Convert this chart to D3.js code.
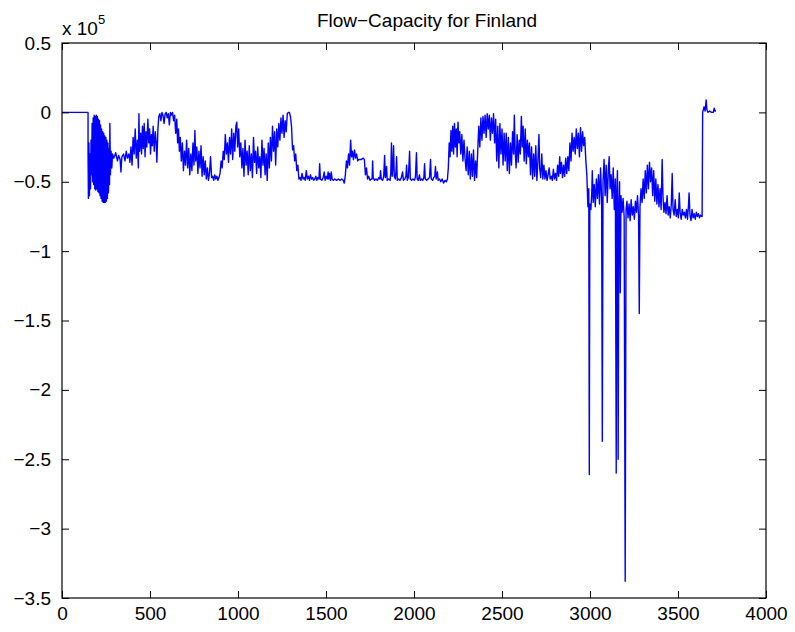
<!DOCTYPE html>
<html>
<head>
<meta charset="utf-8">
<script src="https://cdn.jsdelivr.net/npm/d3@7"></script>
<style>
  body { margin: 0; background: #fff; }
  text { font-family: "Liberation Sans", Arial, sans-serif; fill: #000; }
</style>
</head>
<body>
<svg id="chart"></svg>
<script>
const width = 795;
const height = 632;
const margin = {top: 43, right: 29, bottom: 34, left: 62};

// flow - capacity, pairs of [hour index, value in thousands]
const flatStart = [[0,0],[148,0]];
const earlyWild = [[148,-30],[150,-62],[153,-22],[156,-60],[159,-30],[162,-55],[165,-20],[168,-45],[171,-8],[174,-50],[177,-4],[180,-52],[183,-2],[186,-55],[189,-3],[192,-56],[195,-2],[198,-55],[201,-3],[204,-57],[207,-5],[210,-58],[213,-6],[216,-60],[219,-9],[222,-62],[225,-12],[228,-64],[231,-14],[234,-65],[237,-15],[240,-65],[243,-17],[246,-65],[249,-18],[252,-64],[255,-20],[258,-62],[261,-22],[264,-58],[267,-26],[270,-52],[272,-8],[275,-45],[279,-28],[283,-40],[287,-30]];
const firstPlateau = [[295,-33],[305,-29],[315,-35],[322,-31],[330,-34],[335,-43],[340,-32],[350,-30],[358,-35],[365,-28],[372,-33],[380,-30],[386,-36],[392,-25],[398,-38],[404,-18],[410,-30],[416,-12],[422,-33],[428,-20],[434,-40],[437,-1],[441,-28],[447,-15],[452,-30],[457,-10],[462,-26],[467,-8],[472,-32],[477,-14],[482,-25],[488,-5],[493,-22],[498,-12],[503,-30],[508,-16],[513,-24],[518,-10],[524,-28],[530,-14],[535,-22],[539,-36],[545,-12],[550,-3],[556,-1],[562,-6],[568,0],[574,-2],[580,-8],[586,-1],[592,0],[598,-4],[604,-1],[610,-9],[616,0],[622,-2],[628,0],[634,-6],[640,-2],[646,-15],[652,-5],[657,-22],[662,-12],[667,-28],[672,-18],[678,-35],[684,-22],[690,-42],[696,-28],[702,-38],[708,-20],[714,-40],[720,-26],[726,-45]];
const secondHump = [[732,-30],[738,-42],[744,-22],[750,-38],[755,-13],[760,-35],[766,-25],[772,-44],[778,-28],[784,-40],[790,-24],[796,-46],[802,-32],[808,-45],[814,-35],[820,-48],[826,-40],[832,-49],[838,-44],[844,-32],[850,-47],[856,-46],[862,-49],[868,-45],[874,-48],[880,-46],[886,-49],[892,-47],[898,-44],[904,-35],[910,-40],[916,-28],[922,-34],[928,-16],[934,-30],[940,-22],[946,-36],[952,-18],[958,-30],[964,-12],[970,-34],[976,-15],[982,-28],[988,-10],[993,-7],[998,-25],[1004,-12],[1010,-32],[1016,-22],[1022,-40],[1028,-26],[1034,-46],[1040,-20],[1046,-38],[1052,-28],[1058,-45],[1064,-24],[1070,-42],[1076,-30],[1082,-47],[1088,-18],[1094,-36],[1100,-28],[1106,-44],[1112,-25],[1118,-40],[1124,-32],[1130,-47],[1136,-20],[1142,-38],[1148,-26],[1154,-45],[1160,-30],[1166,-49],[1172,-22],[1178,-40],[1184,-18],[1190,-35],[1196,-10],[1202,-28],[1208,-14],[1214,-38],[1220,-12],[1226,-25],[1232,-8],[1238,-20],[1244,-4],[1250,-15],[1256,-2],[1262,-18],[1268,-6],[1274,-14],[1280,-1],[1286,0],[1292,0],[1298,-3],[1304,-10],[1310,-27],[1316,-24],[1322,-35],[1328,-30],[1334,-42],[1340,-38],[1346,-48]];
const lowStretch = [[1352,-47],[1358,-49],[1364,-44],[1370,-48],[1376,-47],[1382,-49],[1388,-42],[1394,-48],[1400,-46],[1406,-49],[1412,-45],[1418,-48],[1424,-47],[1430,-49],[1436,-48],[1442,-46],[1448,-49],[1454,-47],[1460,-48],[1464,-37],[1468,-48],[1476,-49],[1484,-47],[1490,-43],[1495,-49],[1502,-46],[1508,-48],[1512,-43],[1516,-48],[1520,-44],[1526,-49],[1530,-43],[1535,-48],[1542,-49],[1550,-48],[1560,-49],[1570,-48],[1580,-49],[1590,-48],[1598,-49],[1604,-51],[1610,-45],[1616,-35],[1622,-40],[1628,-30],[1634,-38],[1640,-20],[1645,-32],[1650,-28],[1656,-34],[1662,-27],[1668,-33],[1674,-30],[1680,-35],[1686,-34],[1700,-34],[1712,-33],[1718,-34],[1724,-45],[1730,-40],[1736,-48],[1742,-46],[1750,-49],[1758,-48],[1762,-48],[1765,-35],[1768,-47],[1776,-49],[1784,-48],[1792,-49],[1800,-47],[1806,-48],[1810,-42],[1814,-48],[1822,-49],[1828,-46],[1833,-31],[1837,-47],[1840,-45],[1844,-39],[1848,-49],[1856,-48],[1864,-49],[1868,-44],[1872,-22],[1876,-46],[1880,-40],[1884,-24],[1888,-46],[1894,-48],[1898,-42],[1901,-32],[1905,-49],[1912,-48],[1920,-49],[1928,-47],[1935,-43],[1940,-49],[1948,-48],[1954,-46],[1958,-38],[1962,-49],[1968,-47],[1975,-28],[1979,-48],[1986,-49],[1994,-48],[2002,-49],[2008,-47],[2014,-29],[2018,-48],[2024,-49],[2031,-45],[2036,-49],[2044,-48],[2050,-49],[2056,-47],[2060,-37],[2064,-48],[2072,-49],[2080,-48],[2088,-47],[2094,-34],[2098,-48],[2106,-49],[2112,-47],[2118,-46],[2122,-39],[2126,-48],[2133,-43],[2137,-49],[2145,-48],[2152,-50],[2160,-48],[2168,-51],[2176,-49],[2184,-50],[2190,-48]];
const thirdHump = [[2195,-40],[2200,-22],[2205,-32],[2210,-13],[2215,-28],[2220,-10],[2225,-30],[2230,-8],[2235,-25],[2240,-12],[2245,-32],[2250,-7],[2255,-22],[2260,-14],[2266,-30],[2272,-16],[2278,-35],[2284,-20],[2290,-33],[2296,-42],[2302,-25],[2308,-45],[2314,-28],[2320,-48],[2326,-30],[2332,-46],[2338,-27],[2344,-49],[2350,-35],[2356,-47],[2362,-28],[2368,-10],[2374,-25],[2380,-4],[2386,-20],[2392,-3],[2398,-15],[2404,-2],[2410,-18],[2416,-1],[2422,-12],[2428,-2],[2434,-20],[2440,-4],[2446,-15],[2452,-1],[2458,-22],[2464,-5],[2470,-35],[2476,-10],[2482,-40],[2488,-8],[2494,-30],[2500,-12],[2506,-38],[2512,-15],[2518,-35],[2524,-15],[2530,-42],[2536,-18],[2542,-44],[2548,-22],[2554,-38],[2560,-14],[2566,-30],[2570,-2],[2575,-28],[2580,-40],[2586,-16],[2592,-36],[2598,-20],[2604,-30],[2610,-3],[2615,-25],[2620,-10],[2626,-35],[2632,-12],[2638,-37],[2644,-20],[2650,-32],[2656,-22],[2662,-45],[2668,-25],[2674,-48],[2680,-30],[2686,-46],[2692,-24],[2698,-49],[2704,-35],[2710,-16],[2714,-40],[2720,-47],[2726,-30],[2732,-48],[2738,-38],[2744,-48],[2750,-42],[2756,-49],[2762,-45],[2768,-40],[2774,-48],[2780,-46],[2786,-49],[2792,-41],[2798,-48],[2804,-44],[2810,-49],[2816,-38],[2822,-46],[2828,-32],[2832,-44],[2838,-36],[2844,-47],[2850,-38],[2856,-46],[2862,-33],[2868,-44],[2874,-32],[2880,-42],[2886,-22],[2892,-35],[2898,-15],[2904,-28],[2910,-18],[2916,-30],[2922,-12],[2928,-26],[2934,-15],[2940,-32],[2946,-11],[2952,-28],[2958,-14],[2964,-24],[2970,-18],[2976,-34],[2982,-45],[2988,-68],[2993,-55]];
const spikyEnd = [[2996,-261],[2999,-66],[3005,-70],[3010,-58],[3013,-42],[3018,-65],[3024,-52],[3030,-68],[3036,-48],[3042,-62],[3048,-45],[3054,-66],[3060,-40],[3066,-62],[3070,-237],[3074,-50],[3080,-34],[3086,-60],[3092,-38],[3098,-65],[3104,-42],[3109,-32],[3114,-55],[3120,-45],[3126,-62],[3132,-40],[3138,-70],[3144,-48],[3149,-260],[3152,-58],[3156,-42],[3160,-250],[3164,-66],[3168,-50],[3172,-130],[3176,-60],[3182,-72],[3188,-62],[3194,-75],[3200,-338],[3205,-70],[3210,-64],[3216,-76],[3222,-66],[3228,-78],[3234,-63],[3240,-74],[3246,-68],[3252,-77],[3258,-64],[3264,-72],[3270,-60],[3276,-75],[3280,-145],[3284,-68],[3290,-55],[3296,-65],[3302,-48],[3308,-62],[3314,-42],[3320,-58],[3326,-38],[3332,-55],[3338,-36],[3344,-50],[3350,-40],[3356,-60],[3362,-42],[3368,-64],[3374,-48],[3380,-66],[3386,-52],[3392,-68],[3398,-55],[3404,-70],[3410,-34],[3415,-62],[3420,-72],[3426,-65],[3432,-73],[3438,-60],[3444,-74],[3450,-68],[3456,-76],[3462,-66],[3467,-44],[3472,-70],[3478,-74],[3484,-63],[3490,-75],[3496,-70],[3502,-76],[3507,-58],[3512,-72],[3518,-77],[3524,-70],[3530,-74],[3536,-72],[3542,-76],[3548,-70],[3554,-77],[3560,-66],[3563,-58],[3568,-74],[3574,-78],[3580,-70],[3586,-76],[3592,-73],[3598,-77],[3604,-72],[3610,-75],[3616,-73],[3622,-76],[3628,-74],[3634,-75],[3637,-75]];
const recovery = [[3640,0],[3648,4],[3654,1],[3660,9],[3664,2],[3670,0],[3680,1],[3690,0],[3700,0],[3706,3],[3710,1],[3716,1]];

const xTicks = [0, 500, 1000, 1500, 2000, 2500, 3000, 3500, 4000];
const yTicks = [0.5, 0, -0.5, -1, -1.5, -2, -2.5, -3, -3.5];

const series = [].concat(flatStart, earlyWild, firstPlateau, secondHump, lowStretch, thirdHump, spikyEnd, recovery);

const svg = d3.select('#chart')
            .attr('width', width)
            .attr('height', height);

const x = d3.scaleLinear().domain([0, 4000]).range([margin.left, width - margin.right]);
// y axis is in units of 1e5, data is stored in thousands
const y = d3.scaleLinear().domain([-3.5, 0.5]).range([height - margin.bottom, margin.top]);

const fmt = d => (d < 0 ? '\u2212' + String(-d) : String(d));
const tickLen = 7;

svg.append('path')
    .datum(series)
    .attr('fill', 'none')
    .attr('stroke', '#0000ff')
    .attr('stroke-width', 1.4)
    .attr('stroke-linejoin', 'round')
    .attr('d', d3.line().x(d => x(d[0])).y(d => y(d[1] / 100)));

// axes, MATLAB style: ticks inside on all four sides
const xBottom = svg.append('g').attr('transform', `translate(0, ${height - margin.bottom})`)
    .call(d3.axisBottom(x).tickValues(xTicks).tickSize(-tickLen).tickPadding(9).tickFormat(fmt));
const xTop = svg.append('g').attr('transform', `translate(0, ${margin.top})`)
    .call(d3.axisTop(x).tickValues(xTicks).tickSize(-tickLen).tickFormat(''));
const yLeft = svg.append('g').attr('transform', `translate(${margin.left}, 0)`)
    .call(d3.axisLeft(y).tickValues(yTicks).tickSize(-tickLen).tickPadding(11).tickFormat(fmt));
const yRight = svg.append('g').attr('transform', `translate(${width - margin.right}, 0)`)
    .call(d3.axisRight(y).tickValues(yTicks).tickSize(-tickLen).tickFormat(''));

[xBottom, xTop, yLeft, yRight].forEach(g => {
    g.select('.domain').remove();
    g.selectAll('line').attr('stroke', '#000');
    g.selectAll('text').style('font-size', '19px').attr('fill', '#000');
});
xBottom.selectAll('text').attr('dy', '0.71em');

svg.append('rect')
    .attr('x', margin.left)
    .attr('y', margin.top)
    .attr('width', width - margin.left - margin.right)
    .attr('height', height - margin.top - margin.bottom)
    .attr('fill', 'none')
    .attr('stroke', '#000')
    .attr('stroke-width', 1.2);

svg.append('text')
    .attr('x', 427)
    .attr('y', 27)
    .attr('text-anchor', 'middle')
    .style('font-size', '19px')
    .text('Flow\u2212Capacity for Finland');

const expLabel = svg.append('text')
    .attr('x', margin.left)
    .attr('y', 35)
    .style('font-size', '19px');
expLabel.append('tspan').text('x 10');
expLabel.append('tspan').attr('dy', -11).style('font-size', '13px').text('5');
</script>
</body>
</html>
